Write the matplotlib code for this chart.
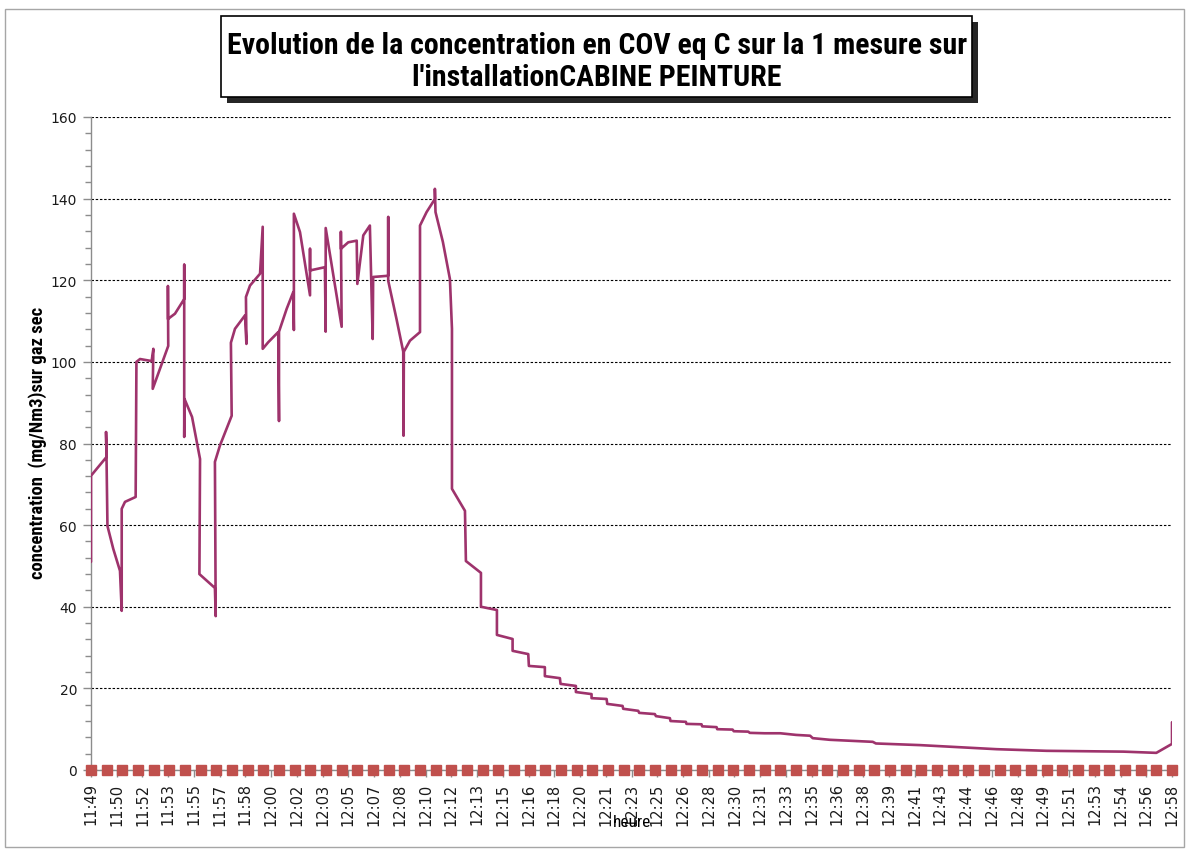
import matplotlib
matplotlib.use("Agg")
import matplotlib.pyplot as plt
from matplotlib.patches import Rectangle
from matplotlib.ticker import MultipleLocator, FixedLocator
from matplotlib import font_manager

# ---------------- data ----------------
tick_labels = ["11:49", "11:50", "11:52", "11:53", "11:55", "11:57", "11:58", "12:00",
               "12:02", "12:03", "12:05", "12:07", "12:08", "12:10", "12:12", "12:13",
               "12:15", "12:16", "12:18", "12:20", "12:21", "12:23", "12:25", "12:26",
               "12:28", "12:30", "12:31", "12:33", "12:35", "12:36", "12:38", "12:39",
               "12:41", "12:43", "12:44", "12:46", "12:48", "12:49", "12:51", "12:53",
               "12:54", "12:56", "12:58"]

ref_minutes = list(range(70))          # one reference point per minute
ref_values = [0] * 70                  # second series: all zero

# main series: minutes after 11:49, concentration (mg/Nm3)
trace_min = [0.00, 0.00, 0.99, 0.96, 0.99, 1.05, 1.42, 1.85, 1.96, 1.96, 2.17, 2.85,
             2.90, 3.13, 3.87, 3.98, 3.94, 4.93, 4.91, 4.91, 5.36, 5.95, 5.95, 5.95,
             5.97, 6.45, 6.96, 6.92, 7.91, 7.96, 7.91, 8.23, 8.98, 8.93, 9.19, 9.83,
             9.92, 9.89, 10.15, 10.79, 10.96, 10.96, 11.31, 11.95, 12.00, 12.00, 12.49,
             12.91, 12.95, 12.95, 13.34, 13.98, 13.98, 13.98, 14.93, 14.98, 14.98, 16.00,
             15.95, 15.95, 16.42, 16.96, 17.00, 17.38, 17.80, 17.98, 18.01, 18.97, 18.97,
             18.97, 19.50, 19.93, 19.95, 19.97, 20.36, 21.00, 21.00, 21.42, 21.95, 21.95,
             21.99, 22.46, 22.91, 23.04, 23.04, 23.87, 23.93, 24.89, 24.89, 25.91, 25.91,
             26.91, 26.91, 27.91, 27.95, 28.97, 28.97, 29.93, 29.97, 30.95, 30.95, 31.95,
             31.95, 32.91, 32.95, 33.93, 33.97, 34.93, 34.99, 35.99, 36.06, 36.95, 36.99,
             37.97, 38.01, 38.97, 39.01, 39.93, 39.97, 40.95, 41.03, 41.95, 42.05, 43.00,
             44.00, 45.00, 45.90, 46.07, 47.16, 49.90, 50.10, 52.90, 55.90, 57.80, 61.00,
             65.90, 68.00, 69.00, 69.00]
trace_conc = [51.0, 72.1, 76.7, 82.8, 76.7, 59.8, 54.2, 48.8, 39.0, 64.0, 65.7, 66.9,
              100.0, 100.7, 100.2, 103.2, 93.4, 103.9, 118.6, 110.5, 111.8, 115.4, 123.8, 81.6,
              90.9, 86.5, 76.2, 48.0, 44.6, 37.7, 75.5, 79.5, 86.8, 104.7, 108.1, 111.4,
              104.4, 115.9, 118.7, 121.6, 133.1, 103.2, 104.8, 107.3, 85.5, 107.4, 113.0,
              117.1, 107.8, 136.3, 131.8, 116.3, 127.7, 122.4, 123.2, 107.4, 132.8, 108.6,
              131.9, 127.7, 129.3, 129.7, 119.1, 131.0, 133.4, 105.6, 120.8, 121.1, 135.5,
              119.9, 110.5, 102.5, 81.9, 102.5, 105.2, 107.3, 133.4, 136.7, 139.9, 142.4,
              136.7, 129.4, 120.3, 108.1, 68.9, 63.5, 51.2, 48.3, 40.0, 39.2, 33.1,
              32.1, 29.2, 28.4, 25.5, 25.2, 23.0, 22.5, 21.1, 20.6, 19.1, 18.6,
              17.6, 17.4, 16.2, 15.7, 15.0, 14.5, 14.0, 13.7, 13.2, 12.7, 12.0,
              11.8, 11.3, 11.2, 10.7, 10.5, 10.0, 9.9, 9.5, 9.4, 9.1, 9.0,
              9.0, 8.6, 8.4, 7.8, 7.4, 6.9, 6.5, 6.1, 5.5, 5.1, 4.7,
              4.5, 4.2, 6.4, 11.7]

title_lines = ["Evolution de la concentration en COV eq C sur la 1 mesure sur",
               "l'installationCABINE PEINTURE"]
y_label = "concentration  (mg/Nm3)sur gaz sec"
x_label = "heure"


# ---------------- fonts ----------------
def pick_narrow_font():
    entries = font_manager.fontManager.ttflist
    names = {f.name for f in entries}
    for cand in ["Liberation Sans Narrow", "Noto Sans Condensed", "Roboto Condensed",
                 "Open Sans Condensed", "DejaVu Sans Condensed", "Noto Sans SemiCondensed"]:
        if cand in names:
            return {"family": [cand, "DejaVu Sans"]}
    for fam in ["Noto Sans", "Open Sans", "Roboto"]:
        for f in entries:
            if f.name == fam and str(f.stretch) in ("condensed", "semi-condensed",
                                                     "extra-condensed"):
                return {"family": [fam, "DejaVu Sans"], "fontstretch": str(f.stretch)}
    return {"family": ["Liberation Sans", "DejaVu Sans"]}


narrow_kw = pick_narrow_font()

W, H = 1189, 853
fig = plt.figure(figsize=(W / 100, H / 100), dpi=100)
fig.patch.set_facecolor("white")


def fx(px):
    return px / W


def fy(py):
    return 1 - py / H


# outer chart border
fig.add_artist(Rectangle((fx(5), fy(848)), fx(1184) - fx(5), fy(10) - fy(848),
                         transform=fig.transFigure, fill=False, edgecolor="#a6a6a6",
                         linewidth=1.0))

ax = fig.add_axes([fx(91), fy(771), fx(1172) - fx(91), fy(118) - fy(771)])
ax.set_xlim(0, 69)
ax.set_ylim(0, 160)
ax.set_facecolor("white")

for side in ("top", "right"):
    ax.spines[side].set_visible(False)
for side in ("left", "bottom"):
    ax.spines[side].set_color("#8c8c8c")
    ax.spines[side].set_linewidth(1.0)

ax.yaxis.set_major_locator(MultipleLocator(20))
ax.yaxis.set_minor_locator(MultipleLocator(4))
ax.yaxis.grid(True, which="major", linestyle=(0, (2.2, 1.6)), color="black", linewidth=0.8)
ax.set_axisbelow(True)
ax.tick_params(axis="y", which="major", length=6, width=1, color="#8c8c8c",
               labelsize=10, labelcolor="#1a1a1a", pad=4)
ax.tick_params(axis="y", which="minor", length=4, width=1, color="#8c8c8c")

n_lab = len(tick_labels)
tick_pos = [k * 69 / (n_lab - 1) for k in range(n_lab)]
ax.xaxis.set_major_locator(FixedLocator(tick_pos))
ax.set_xticklabels(tick_labels, rotation=90, fontsize=10.5, color="#1a1a1a")
ax.tick_params(axis="x", which="major", length=5, width=1, color="#8c8c8c", pad=4)

ax.plot(ref_minutes, ref_values, linestyle="none", marker="s", markersize=6.5,
        color="#C0504D", clip_on=False, zorder=5)
ax.plot(trace_min, trace_conc, color="#9E336C", linewidth=1.9,
        solid_joinstyle="round", solid_capstyle="round", zorder=4)

# axis titles
ylab = fig.text(fx(38), fy(443), y_label, rotation=90, ha="center", va="center",
                fontsize=10, fontweight="bold", color="black", **narrow_kw)
xlab = fig.text(fx(632), fy(823), x_label, ha="center", va="center",
                fontsize=11, color="black", **narrow_kw)

# title box with shadow
fig.add_artist(Rectangle((fx(227), fy(104)), fx(978) - fx(227), fy(23) - fy(104),
                         transform=fig.transFigure, facecolor="#262626", edgecolor="none"))
fig.add_artist(Rectangle((fx(221), fy(98)), fx(972) - fx(221), fy(17) - fy(98),
                         transform=fig.transFigure, facecolor="white", edgecolor="black",
                         linewidth=1.2))
t1 = fig.text(fx(597), fy(46), title_lines[0], ha="center", va="center", fontsize=18.5,
              fontweight="bold", color="black", **narrow_kw)
t2 = fig.text(fx(597), fy(78), title_lines[1], ha="center", va="center", fontsize=18.5,
              fontweight="bold", color="black", **narrow_kw)

# fit text sizes to the reference extents (pixels)
renderer = fig.canvas.get_renderer()
w1 = t1.get_window_extent(renderer).width
fs_title = 18.5 * 740.0 / w1
t1.set_fontsize(fs_title)
t2.set_fontsize(fs_title)
hy = ylab.get_window_extent(renderer).height
ylab.set_fontsize(10 * 272.0 / hy)
wx = xlab.get_window_extent(renderer).width
xlab.set_fontsize(11 * 38.0 / wx)

fig.savefig("out.png", dpi=100)
